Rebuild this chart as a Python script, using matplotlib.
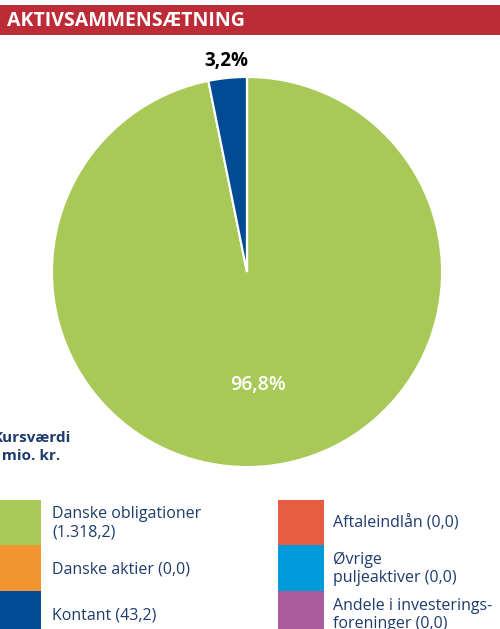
import matplotlib.pyplot as plt
from matplotlib.patches import Rectangle
import numpy as np

plt.rcParams['font.family'] = ['Open Sans', 'DejaVu Sans']

# data
title = 'AKTIVSAMMENSÆTNING'
names = ['Danske obligationer\n', 'Danske aktier ', 'Kontant ',
         'Aftaleindlån ', 'Øvrige\npuljeaktiver ', 'Andele i investerings-\nforeninger ']
values = [1318.2, 0.0, 43.2, 0.0, 0.0, 0.0]
colors = ['#a8c957', '#f29431', '#004b93', '#e65e3f', '#009ada', '#a95b9b']
note = 'Kursværdi\ni mio. kr.'

navy = '#1d3b6d'
W, H = 500, 629


def dk(v):
    s = f'{v:,.1f}'
    return s.replace(',', '#').replace('.', ',').replace('#', '.')


fig = plt.figure(figsize=(W / 100, H / 100), dpi=100)

# background axes in pixel coordinates (y down)
bg = fig.add_axes([0, 0, 1, 1])
bg.set_xlim(0, W)
bg.set_ylim(H, 0)
bg.axis('off')

bg.add_patch(Rectangle((0, 5), W, 30, color='#bd2b37', lw=0))
bg.text(7, 21, title, color='white', fontsize=14, fontweight='bold', va='center', ha='left')

bg.text(-7, 447, note, color=navy, fontsize=11, fontweight='bold', va='center', ha='left',
        linespacing=1.4)

# pie
cx, cy, r = 247, 272, 195
ax = fig.add_axes([(cx - r) / W, (H - cy - r) / H, 2 * r / W, 2 * r / H])
wedges, _ = ax.pie(values, colors=colors, startangle=90, counterclock=False,
                   wedgeprops=dict(edgecolor='white', linewidth=1.5))
ax.set_xlim(-1, 1)
ax.set_ylim(-1, 1)
ax.set_aspect('equal')

total = sum(values)
for w, v in zip(wedges, values):
    if v <= 0:
        continue
    pct = v / total * 100
    ang = np.deg2rad((w.theta1 + w.theta2) / 2)
    lbl = f'{pct:.1f}%'.replace('.', ',')
    if pct > 50:
        ax.text(0.58 * np.cos(ang), 0.58 * np.sin(ang), lbl, color='white', fontsize=14,
                fontweight='semibold', ha='center', va='center')
    else:
        ax.text(1.09 * np.cos(ang), 1.09 * np.sin(ang), lbl, color='black', fontsize=13.5,
                fontweight='bold', ha='center', va='center')

# legend
cols = [(0, 41, 52), (278, 324, 333)]
row_top = [500, 545, 591]
row_h = [45, 46, 46]
for i, (n, v, c) in enumerate(zip(names, values, colors)):
    x0, x1, tx = cols[i // 3]
    y0 = row_top[i % 3]
    h = row_h[i % 3]
    bg.add_patch(Rectangle((x0, y0), x1 - x0, h, color=c, lw=0))
    bg.text(tx, y0 + h / 2 + 1, n + f'({dk(v)})', color=navy, fontsize=11.5,
            va='center', ha='left', linespacing=1.2)

fig.savefig('out.png', dpi=100)
